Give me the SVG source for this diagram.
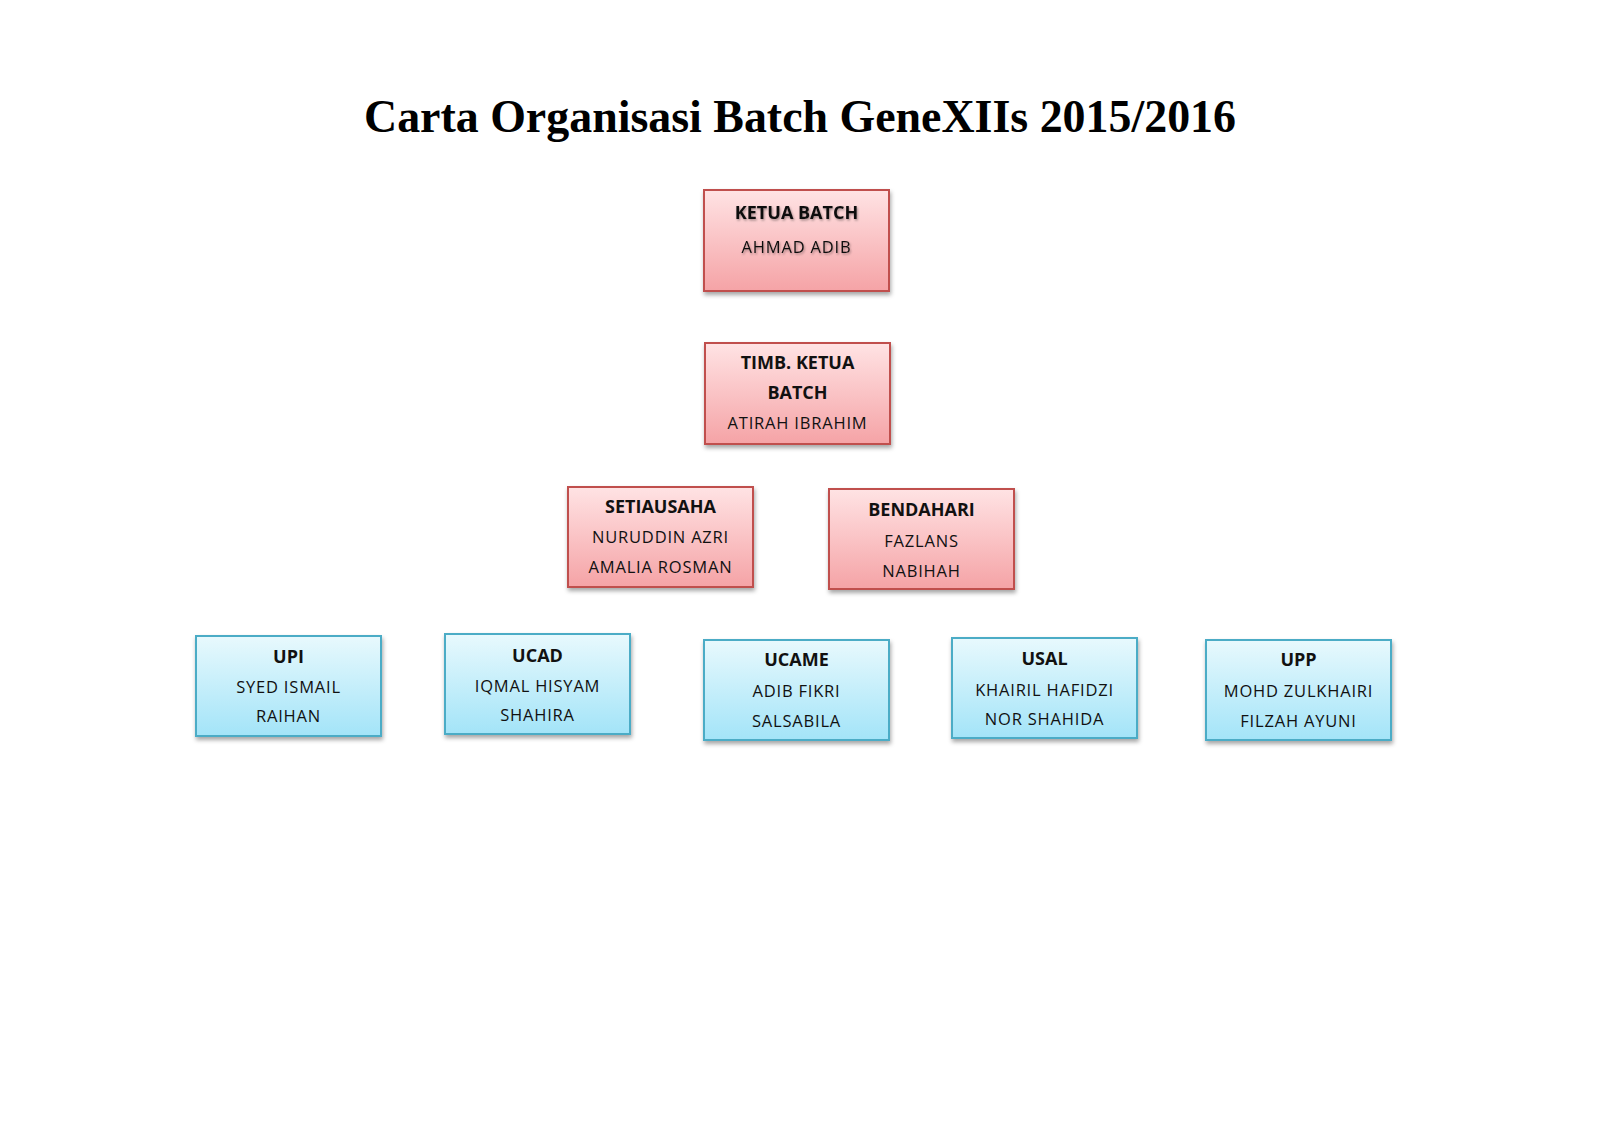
<svg xmlns="http://www.w3.org/2000/svg" width="1600" height="1131" viewBox="0 0 1600 1131">
<defs>
<linearGradient id="gr" x1="0" y1="0" x2="0" y2="1">
<stop offset="0" stop-color="#ffe3e4"/>
<stop offset="1" stop-color="#f5a3a6"/>
</linearGradient>
<linearGradient id="gb" x1="0" y1="0" x2="0" y2="1">
<stop offset="0" stop-color="#e8f9fd"/>
<stop offset="1" stop-color="#a3e4f8"/>
</linearGradient>
<filter id="sh" x="-10%" y="-10%" width="125%" height="130%">
<feDropShadow dx="1" dy="3" stdDeviation="2" flood-color="#000" flood-opacity="0.35"/>
</filter>
<filter id="tsh" x="-10%" y="-30%" width="120%" height="170%">
<feDropShadow dx="1" dy="1.5" stdDeviation="1" flood-color="#000" flood-opacity="0.35"/>
</filter>
</defs>
<style>
.red{fill:url(#gr);stroke:#c0504d;stroke-width:2;filter:url(#sh)}
.blue{fill:url(#gb);stroke:#4bacc6;stroke-width:2;filter:url(#sh)}
text{font-family:"Open Sans","Liberation Sans",sans-serif;fill:#111;text-anchor:middle}
.h{font-weight:bold;font-size:18px}
.n{font-size:16.5px;letter-spacing:0.8px}
.title{font-family:"Liberation Serif",serif;font-weight:bold;font-size:46px;fill:#000}
.ts{filter:url(#tsh)}
</style>
<rect width="1600" height="1131" fill="#fff"/>
<text class="title" x="800" y="132" textLength="872" lengthAdjust="spacingAndGlyphs">Carta Organisasi Batch GeneXIIs 2015/2016</text>
<g id="connectors"></g>
<g id="ketua">
<rect class="red" x="704" y="190" width="185" height="101"/>
<g class="ts"><text class="h" x="796.5" y="219">KETUA BATCH</text>
<text class="n" x="796.5" y="253">AHMAD ADIB</text></g>
</g>
<g id="timb">
<rect class="red" x="705" y="343" width="185" height="101"/>
<text class="h" x="797.5" y="369">TIMB. KETUA</text>
<text class="h" x="797.5" y="399">BATCH</text>
<text class="n" x="797.5" y="429">ATIRAH IBRAHIM</text>
</g>
<g id="setiausaha">
<rect class="red" x="568" y="487" width="185" height="100"/>
<text class="h" x="660.5" y="513">SETIAUSAHA</text>
<text class="n" x="660.5" y="543">NURUDDIN AZRI</text>
<text class="n" x="660.5" y="573">AMALIA ROSMAN</text>
</g>
<g id="bendahari">
<rect class="red" x="829" y="489" width="185" height="100"/>
<text class="h" x="921.5" y="516">BENDAHARI</text>
<text class="n" x="921.5" y="547">FAZLANS</text>
<text class="n" x="921.5" y="577">NABIHAH</text>
</g>
<g id="upi">
<rect class="blue" x="196" y="636" width="185" height="100"/>
<text class="h" x="288.5" y="663">UPI</text>
<text class="n" x="288.5" y="693">SYED ISMAIL</text>
<text class="n" x="288.5" y="722">RAIHAN</text>
</g>
<g id="ucad">
<rect class="blue" x="445" y="634" width="185" height="100"/>
<text class="h" x="537.5" y="662">UCAD</text>
<text class="n" x="537.5" y="692">IQMAL HISYAM</text>
<text class="n" x="537.5" y="721">SHAHIRA</text>
</g>
<g id="ucame">
<rect class="blue" x="704" y="640" width="185" height="100"/>
<text class="h" x="796.5" y="666">UCAME</text>
<text class="n" x="796.5" y="697">ADIB FIKRI</text>
<text class="n" x="796.5" y="727">SALSABILA</text>
</g>
<g id="usal">
<rect class="blue" x="952" y="638" width="185" height="100"/>
<text class="h" x="1044.5" y="665">USAL</text>
<text class="n" x="1044.5" y="696">KHAIRIL HAFIDZI</text>
<text class="n" x="1044.5" y="725">NOR SHAHIDA</text>
</g>
<g id="upp">
<rect class="blue" x="1206" y="640" width="185" height="100"/>
<text class="h" x="1298.5" y="666">UPP</text>
<text class="n" x="1298.5" y="697">MOHD ZULKHAIRI</text>
<text class="n" x="1298.5" y="727">FILZAH AYUNI</text>
</g>
</svg>
